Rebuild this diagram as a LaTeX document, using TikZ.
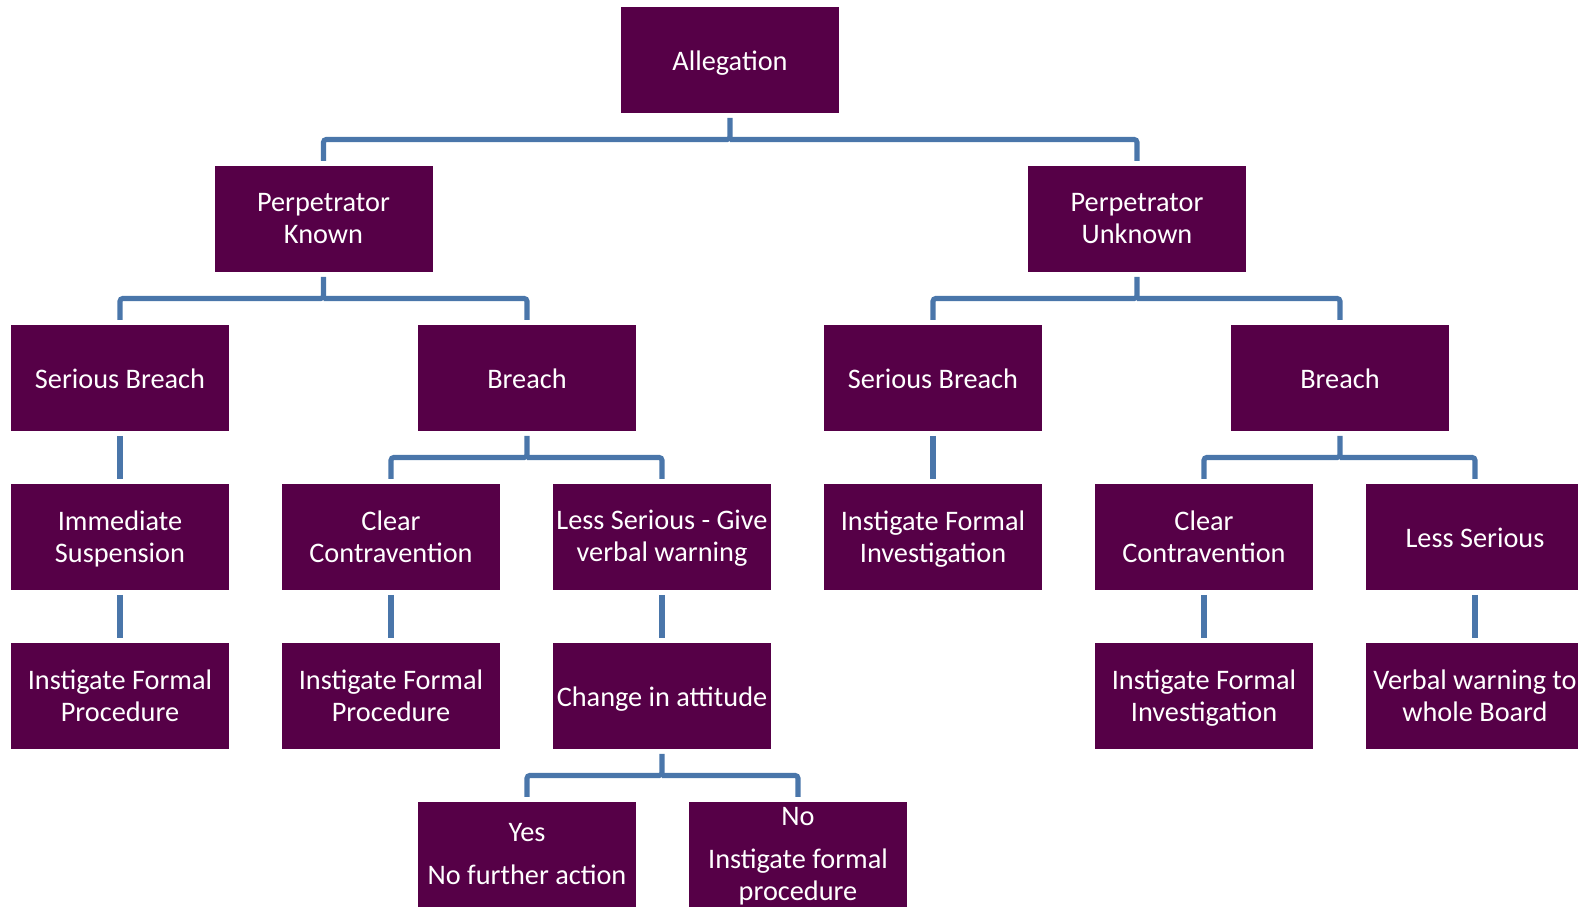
\documentclass[tikz,border=0pt]{standalone}
\usepackage{fontspec}
\setmainfont{Carlito}
\usetikzlibrary{positioning}
\definecolor{boxpurple}{RGB}{86,0,71}
\definecolor{linkblue}{RGB}{74,118,170}
\tikzset{
  box/.style={fill=boxpurple, text=white, minimum width=2.18cm, minimum height=1.06cm,
    inner sep=0pt, outer sep=0pt, align=center, font=\fontsize{8.05}{9.1}\selectfont,
    text depth=0.45pt, execute at begin node=\strut},
  link/.style={draw=linkblue, line width=1.45pt, rounded corners=0.8pt, shorten >=0.05cm},
}

\begin{document}
\begin{tikzpicture}[node distance=0.53cm]
  \useasboundingbox (0,0) rectangle (15.78,-9.07);

  \node[box] (alleg) at (7.30,-0.60) {Allegation};

  \node[box] (pk) at (3.235,-2.19) {Perpetrator\\Known};
  \node[box] (pu) at (11.37,-2.19) {Perpetrator\\Unknown};

  \node[box] (sbL) at (1.20,-3.78) {Serious Breach};
  \node[box] (brL) at (5.27,-3.78) {Breach};
  \node[box] (sbR) at (9.33,-3.78) {Serious Breach};
  \node[box] (brR) at (13.40,-3.78) {Breach};

  % known side
  \node[box] (imm) [below=of sbL] {Immediate\\Suspension};
  \node[box] (ifp1) [below=of imm] {Instigate Formal\\Procedure};
  \node[box] (ccL) at (3.91,-5.37) {Clear\\Contravention};
  \node[box] (ifp2) [below=of ccL] {Instigate Formal\\Procedure};
  \node[box] (lsg) at (6.62,-5.37) {Less Serious - Give\\verbal warning};
  \node[box] (chg) [below=of lsg] {Change in attitude};
  \node[box] (yes) at (5.27,-8.55) {Yes\\[0.11cm]No further action};
  \node[box] (no) at (7.98,-8.55) {No\\[0.11cm]Instigate formal\\procedure};

  % unknown side
  \node[box] (ifi) [below=of sbR] {Instigate Formal\\Investigation};
  \node[box] (ccR) at (12.04,-5.37) {Clear\\Contravention};
  \node[box] (ifi2) [below=of ccR] {Instigate Formal\\Investigation};
  \node[box] (ls) at (14.75,-5.37) {Less Serious};
  \node[box] (vw) [below=of ls] {Verbal warning to\\whole Board};

  \foreach \p/\a/\b in {alleg/pk/pu, pk/sbL/brL, pu/sbR/brR, brL/ccL/lsg, brR/ccR/ls, chg/yes/no} {
    \draw[link, shorten <=0.05cm] (\p.south) -- ++(0,-0.265) -| (\a.north);
    \draw[link] (\p.south) ++(0,-0.265) -| (\b.north);
  }
  \foreach \p/\c in {sbL/imm, imm/ifp1, ccL/ifp2, lsg/chg, sbR/ifi, ccR/ifi2, ls/vw}
    \draw[link, shorten <=0.05cm] (\p) -- (\c);

\end{tikzpicture}
\end{document}
